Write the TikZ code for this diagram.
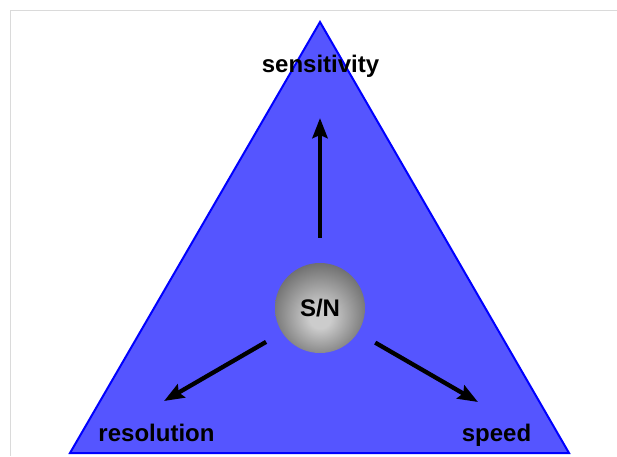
\documentclass[tikz,border=0pt]{standalone}
\usepackage{fontspec}
\setmainfont{Liberation Sans}
\usetikzlibrary{arrows.meta,positioning}
\definecolor{trifill}{HTML}{5555FF}
\definecolor{triedge}{HTML}{0000FF}
\definecolor{framegray}{HTML}{DADADA}
\definecolor{snlight}{HTML}{CCCCCC}
\definecolor{sndark}{HTML}{333333}
\pgfdeclareradialshading{snball}{\pgfpoint{0bp}{-6bp}}{color(0bp)=(snlight); color(6bp)=(snlight); color(42bp)=(sndark); color(50bp)=(sndark)}

\begin{document}
\begin{tikzpicture}[x=1pt, y=-1pt,
  lbl/.style={font=\fontsize{24}{27}\selectfont\bfseries, inner sep=0pt, anchor=base},
  arr/.style={draw=black, line width=4.3pt, -{Stealth[length=20pt, width=15pt, inset=3pt]}}]
\useasboundingbox (0,0) rectangle (617,456);
\draw[framegray, line width=1.5pt] (10.5,456) -- (10.5,10.5) -- (617,10.5);
\draw[triedge, fill=trifill, line width=2pt] (320,22) -- (569,453) -- (70,453) -- cycle;

\node[circle, minimum size=90pt, inner sep=0pt, shading=snball,
      font=\fontsize{24}{27}\selectfont\bfseries] (sn) at (320,308) {S/N};

\node[lbl] (sens) at (320.5,72) {sensitivity};
\node[lbl] (res) at (156.5,441) {resolution};
\node[lbl] (spd) at (496.5,441) {speed};

\coordinate (sens-tip) at (320,118);
\coordinate (res-tip) at (164,401);
\coordinate (spd-tip) at (478,402);

\draw[arr, shorten <=25pt] (sn.north) -- (sens-tip);
\draw[arr, shorten <=18.5pt] (sn.213) -- (res-tip);
\draw[arr, shorten <=20pt] (sn.327) -- (spd-tip);
\end{tikzpicture}
\end{document}
